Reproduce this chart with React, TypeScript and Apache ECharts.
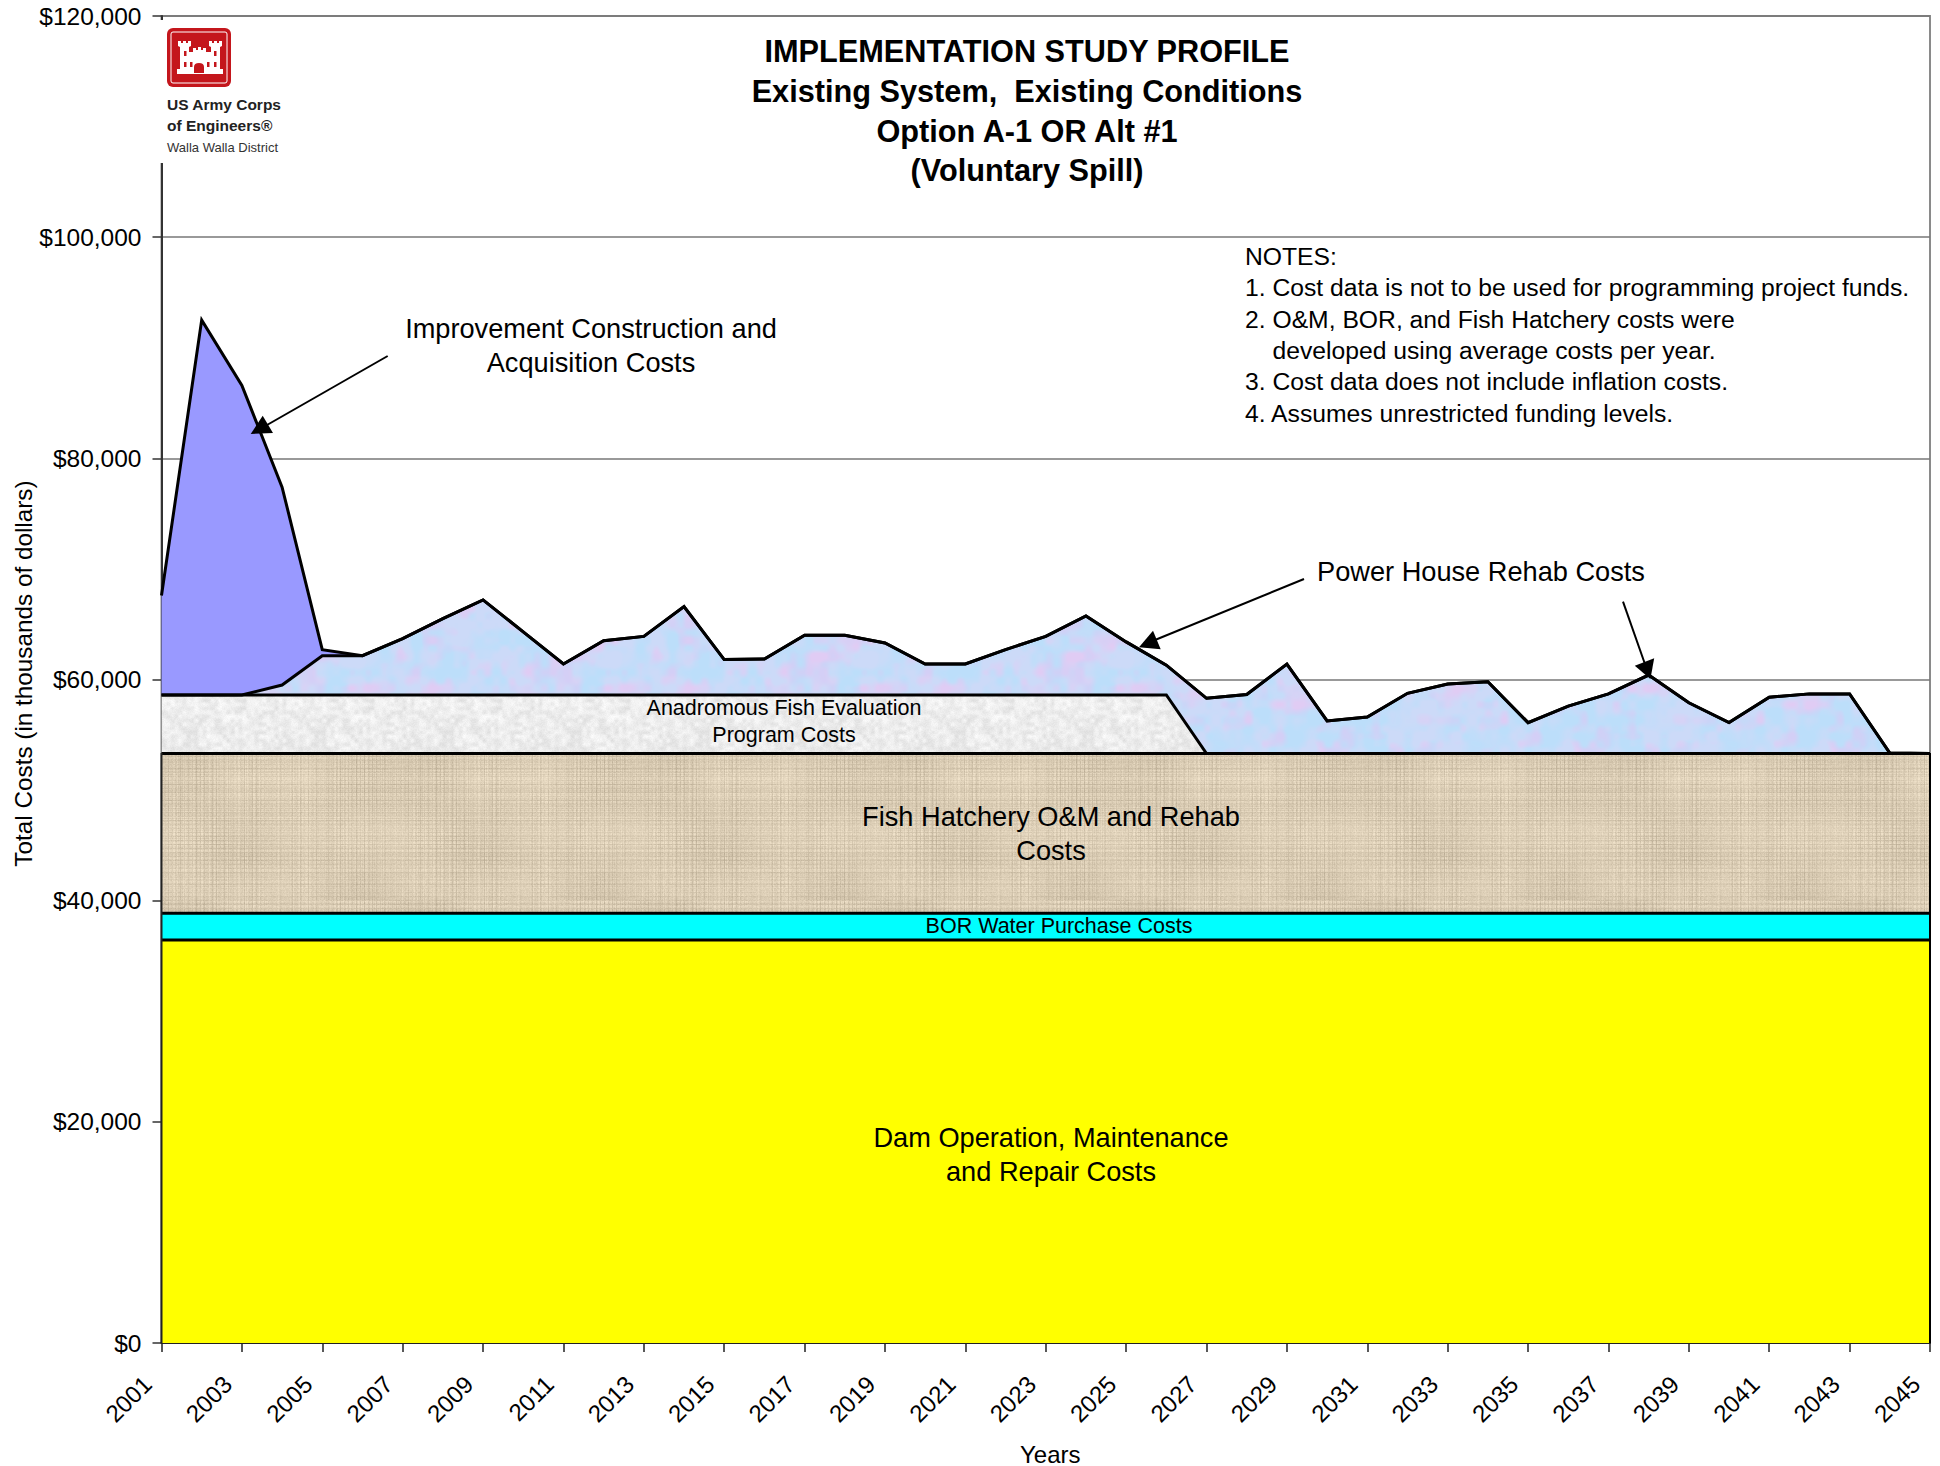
import React, { useEffect, useRef } from "react";
import * as echarts from "echarts";

const years = Array.from({ length: 45 }, (_, i) => String(2001 + i));
const damOM = years.map(() => 36440);
const borWater = years.map(() => 2420);
const hatchery = years.map(() => 14440);
const fishEval = [
  5300, 5300, 5300, 5300, 5300, 5300, 5300, 5300, 5300, 5300, 5300, 5300, 5300, 5300, 5300,
  5300, 5300, 5300, 5300, 5300, 5300, 5300, 5300, 5300, 5300, 5300, 0, 0, 0, 0,
  0, 0, 0, 0, 0, 0, 0, 0, 0, 0, 0, 0, 0, 0, 0,
];
const powerHouse = [
  0, 0, 0, 900, 3550, 3550, 5100, 6900, 8600, 5700, 2800, 4900, 5300, 8000, 3200,
  3250, 5400, 5400, 4700, 2800, 2800, 4100, 5300, 7150, 4800, 2700, 5000, 5350, 8100, 2950,
  3300, 5450, 6300, 6500, 2800, 4300, 5400, 7100, 4600, 2800, 5100, 5400, 5400, 50, 0,
];
const improvement = [
  9000, 33900, 28000, 17900, 550, 0, 0, 0, 0, 0, 0, 0, 0, 0, 0,
  0, 0, 0, 0, 0, 0, 0, 0, 0, 0, 0, 0, 0, 0, 0,
  0, 0, 0, 0, 0, 0, 0, 0, 0, 0, 0, 0, 0, 0, 0,
];
const titleLines = [
  "IMPLEMENTATION STUDY PROFILE",
  "Existing System,  Existing Conditions",
  "Option A-1 OR Alt #1",
  "(Voluntary Spill)",
];
const noteLines = [
  "NOTES:",
  "1. Cost data is not to be used for programming project funds.",
  "2. O&M, BOR, and Fish Hatchery costs were",
  "    developed using average costs per year.",
  "3. Cost data does not include inflation costs.",
  "4. Assumes unrestricted funding levels.",
];

const FONT = '"Liberation Sans", Arial, sans-serif';

function hash(x: number, y: number, s: number) {
  const v = Math.sin(x * 127.1 + y * 311.7 + s * 74.7) * 43758.5453;
  return v - Math.floor(v);
}
function smooth(x: number, y: number, cell: number, size: number, s: number) {
  const n = Math.round(size / cell);
  const fx = x / cell, fy = y / cell;
  const ix = Math.floor(fx), iy = Math.floor(fy);
  const tx = fx - ix, ty = fy - iy;
  const ux = tx * tx * (3 - 2 * tx), uy = ty * ty * (3 - 2 * ty);
  const h = (a: number, b: number) => hash(((a % n) + n) % n, ((b % n) + n) % n, s);
  const top = h(ix, iy) * (1 - ux) + h(ix + 1, iy) * ux;
  const bot = h(ix, iy + 1) * (1 - ux) + h(ix + 1, iy + 1) * ux;
  return top * (1 - uy) + bot * uy;
}
function makeTexture(w: number, h: number, px: (x: number, y: number) => number[]) {
  const c = document.createElement("canvas");
  c.width = w;
  c.height = h;
  const ctx = c.getContext("2d")!;
  const img = ctx.createImageData(w, h);
  for (let y = 0; y < h; y++) {
    for (let x = 0; x < w; x++) {
      const [r, g, b] = px(x, y);
      const i = (y * w + x) * 4;
      img.data[i] = r;
      img.data[i + 1] = g;
      img.data[i + 2] = b;
      img.data[i + 3] = 255;
    }
  }
  ctx.putImageData(img, 0, 0);
  return c;
}
const stone = () =>
  makeTexture(256, 256, (x, y) => {
    const a = smooth(x, y, 16, 256, 1) * 0.55 + smooth(x, y, 8, 256, 2) * 0.45;
    const b = smooth(x, y, 16, 256, 3) * 0.55 + smooth(x, y, 8, 256, 4) * 0.45;
    const blue = Math.max(0, Math.min(1, (a - 0.35) * 3));
    const pink = Math.max(0, Math.min(1, (b - 0.45) * 3));
    return [
      204 - blue * 16 + pink * 20,
      218 + blue * 4 - pink * 14,
      248 + blue * 2 - pink * 4,
    ];
  });
const granite = () =>
  makeTexture(128, 128, (x, y) => {
    const n = smooth(x, y, 4, 128, 5) * 0.55 + smooth(x, y, 16, 128, 6) * 0.25 + hash(x, y, 7) * 0.2;
    const v = 216 + n * 40;
    return [v, v, v];
  });
const burlap = () =>
  makeTexture(240, 180, (x, y) => {
    const col = hash(x, 0, 8) - 0.5;
    const row = hash(0, y, 9) - 0.5;
    const patch = smooth(x, y, 60, 240, 10) - 0.5;
    const weave = x % 4 === 0 || y % 4 === 0 ? -10 : 3;
    const d = col * 14 + row * 14 + patch * 14 + weave * (0.5 + smooth(x, y, 20, 240, 11)) + (hash(x, y, 12) - 0.5) * 12;
    return [218 + d, 204 + d, 180 + d];
  });

const CASTLE =
  "M177 74V69H180V47L178 46V41H181V43H183V41H186V43H188V41H191V46L189 47V52H193V48H196V50H198V47H201V50H203V48H206V52H211V47L209 46V41H212V43H214V41H217V43H219V41H222V46L220 47V69H223V74Z";
const DOOR = "M194 73V67Q194 63 199 63Q204 63 204 67V73Z";
echarts.graphic.registerShape("castle", echarts.graphic.extendPath(CASTLE, {}));
echarts.graphic.registerShape("castleDoor", echarts.graphic.extendPath(DOOR, {}));

const RED = "#c4161c";
const txt = (x: number, y: number, text: string, fontSize: number, extra: any = {}) => ({
  type: "text",
  x,
  y,
  z: 100,
  style: {
    text,
    fontSize,
    fontFamily: FONT,
    fill: "#000",
    textAlign: "center",
    textVerticalAlign: "middle",
    ...extra,
  },
});
const seg = (x1: number, y1: number, x2: number, y2: number, color = "#000", w = 2) => ({
  type: "line",
  z: 100,
  shape: { x1, y1, x2, y2 },
  style: { stroke: color, lineWidth: w },
});
const tri = (points: number[][]) => ({
  type: "polygon",
  z: 101,
  shape: { points },
  style: { fill: "#000" },
});
const win = (x: number, y: number) => ({
  type: "rect",
  z: 103,
  shape: { x, y, width: 2.5, height: 5 },
  style: { fill: RED },
});

export default function App() {
  const ref = useRef<HTMLDivElement>(null);
  useEffect(() => {
    const chart = echarts.init(ref.current!, null, { renderer: "svg" });
    const layer = (name: string, data: number[], color: any) => ({
      name,
      type: "line",
      stack: "total",
      data,
      symbol: "none",
      silent: true,
      lineStyle: { color: "#000", width: 3, join: "miter" },
      areaStyle: { color, opacity: 1 },
    });
    const pat = (image: HTMLCanvasElement) => ({ image, repeat: "repeat" });
    chart.setOption({
      animation: false,
      backgroundColor: "#fff",
      textStyle: { fontFamily: FONT },
      title: {
        text: titleLines.join("\n"),
        left: 1022,
        top: 27,
        textAlign: "center",
        textStyle: { fontFamily: FONT, fontSize: 30.7, fontWeight: "bold", color: "#000", lineHeight: 39.6 },
      },
      grid: {
        left: 161.5,
        right: 10,
        top: 16,
        bottom: 123,
        show: true,
        outerBoundsMode: "none",
        containLabel: false,
        borderColor: "#8a8a8a",
        borderWidth: 2,
        backgroundColor: "#fff",
      },
      xAxis: {
        type: "category",
        data: years,
        boundaryGap: false,
        name: "Years",
        nameLocation: "middle",
        nameGap: 99,
        nameTextStyle: { fontFamily: FONT, fontSize: 24, color: "#000", padding: [0, 0, 0, 9] },
        axisLine: { show: true, lineStyle: { color: "#222", width: 2 } },
        axisTick: { show: true, interval: 1, length: 9, lineStyle: { color: "#222", width: 1.5 } },
        axisLabel: {
          interval: 1,
          rotate: 45,
          margin: 23,
          padding: [0, 20, 0, 0],
          fontFamily: FONT,
          fontSize: 24,
          color: "#000",
          showMaxLabel: true,
        },
        splitLine: { show: false },
      },
      yAxis: {
        type: "value",
        min: 0,
        max: 120000,
        interval: 20000,
        name: "Total Costs (in thousands of dollars)",
        nameLocation: "middle",
        nameGap: 126,
        nameMoveOverlap: false,
        nameTextStyle: { fontFamily: FONT, fontSize: 24.3, color: "#000", padding: [0, 0, 0, 12] },
        axisLine: { show: true, lineStyle: { color: "#333", width: 2 } },
        axisTick: { show: true, length: 9, lineStyle: { color: "#333", width: 1.5 } },
        axisLabel: {
          margin: 20,
          fontFamily: FONT,
          fontSize: 24.5,
          color: "#000",
          formatter: (v: number) => "$" + v.toLocaleString("en-US"),
        },
        splitLine: { show: true, lineStyle: { color: "#777", width: 1.5 } },
      },
      series: [
        layer("Dam Operation, Maintenance and Repair Costs", damOM, "#ffff00"),
        layer("BOR Water Purchase Costs", borWater, "#00ffff"),
        layer("Fish Hatchery O&M and Rehab Costs", hatchery, pat(burlap())),
        layer("Anadromous Fish Evaluation Program Costs", fishEval, pat(granite())),
        layer("Power House Rehab Costs", powerHouse, pat(stone())),
        layer("Improvement Construction and Acquisition Costs", improvement, "#9999ff"),
      ],
      graphic: [
        { type: "rect", z: 99, shape: { x: 157, y: 20, width: 7, height: 143 }, style: { fill: "#fff" } },
        seg(1930, 753, 1930, 1343),
        seg(161.5, 753, 161.5, 1343, "#222"),
        { type: "rect", z: 101, shape: { x: 167, y: 28, width: 64, height: 59, r: 6 }, style: { fill: RED } },
        { type: "rect", z: 102, shape: { x: 171, y: 32, width: 56, height: 51, r: 2 }, style: { fill: "none", stroke: "#fff", lineWidth: 1 } },
        { type: "castle", z: 102, style: { fill: "#fff" } },
        { type: "castleDoor", z: 103, style: { fill: RED } },
        win(184, 51), win(214, 51), win(184, 62), win(214, 62), win(190, 62), win(207, 62),
        txt(167, 104, "US Army Corps", 15.5, { textAlign: "left", fontWeight: "bold", fill: "#222" }),
        txt(167, 125, "of Engineers®", 15.5, { textAlign: "left", fontWeight: "bold", fill: "#222" }),
        txt(167, 147, "Walla Walla District", 13, { textAlign: "left", fill: "#333" }),
        ...noteLines.map((t, i) =>
          txt(1245, [256, 287, 319, 350, 381, 413][i], t, 24.7, { textAlign: "left" })
        ),
        txt(591, 328, "Improvement Construction and", 27.2),
        txt(591, 362, "Acquisition Costs", 27.2),
        txt(1481, 571, "Power House Rehab Costs", 27.2),
        txt(784, 708, "Anadromous Fish Evaluation", 21.5),
        txt(784, 735, "Program Costs", 21.5),
        txt(1051, 816, "Fish Hatchery O&M and Rehab", 27.2),
        txt(1051, 850, "Costs", 27.2),
        txt(1059, 926, "BOR Water Purchase Costs", 21.5),
        txt(1051, 1137, "Dam Operation, Maintenance", 27.2),
        txt(1051, 1171, "and Repair Costs", 27.2),
        seg(387.7, 356, 267, 425),
        tri([[262.7, 415.7], [250.7, 434], [273, 433]]),
        seg(1304, 579, 1155, 640),
        tri([[1139, 647.3], [1153, 630.7], [1160.7, 649.3]]),
        seg(1623, 601.7, 1645.3, 665),
        tri([[1634.8, 665.7], [1654.2, 658.3], [1650.4, 679]]),
      ],
    });
    return () => chart.dispose();
  }, []);
  return <div ref={ref} style={{ position: "absolute", left: 0, top: 0, width: 1940, height: 1466 }} />;
}
